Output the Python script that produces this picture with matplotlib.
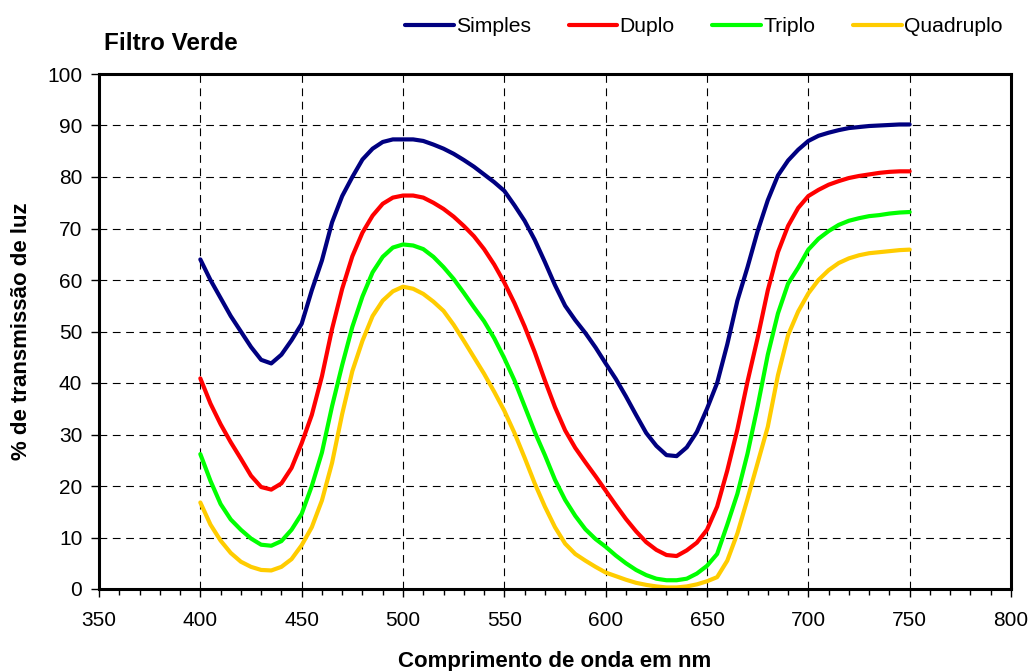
import numpy as np
import matplotlib.pyplot as plt
from matplotlib.ticker import MultipleLocator

plt.rcParams['font.family'] = ['Liberation Sans', 'DejaVu Sans']

# comprimento de onda (nm)
wl = np.arange(400, 751, 5)

simples = [64.0, 60.0, 56.5, 53.0, 50.0, 47.0, 44.5, 43.8, 45.5, 48.3,
           51.5, 58.0, 63.8, 71.2, 76.3, 80.0, 83.4, 85.5, 86.8, 87.3,
           87.3, 87.3, 87.0, 86.3, 85.5, 84.5, 83.3, 82.0, 80.5, 79.0,
           77.3, 74.5, 71.5, 67.8, 63.5, 59.0, 55.0, 52.2, 49.7, 46.9,
           43.8, 40.8, 37.4, 33.8, 30.3, 27.8, 26.0, 25.8, 27.5, 30.5,
           35.0, 40.0, 47.5, 56.0, 62.5, 69.5, 75.5, 80.3, 83.2, 85.3,
           87.0, 88.0, 88.6, 89.1, 89.5, 89.7, 89.9, 90.0, 90.1, 90.2,
           90.2]

duplo = [40.9, 36.0, 32.0, 28.5, 25.3, 22.0, 19.8, 19.3, 20.5, 23.5,
         28.3, 33.8, 41.3, 50.5, 58.3, 64.6, 69.2, 72.5, 74.8, 76.0,
         76.4, 76.4, 76.0, 75.0, 73.8, 72.3, 70.5, 68.5, 66.0, 63.0,
         59.5, 55.5, 51.0, 46.0, 40.5, 35.3, 30.8, 27.4, 24.6, 21.9,
         19.1, 16.3, 13.6, 11.2, 9.1, 7.6, 6.6, 6.4, 7.5, 9.0,
         11.5, 16.0, 23.0, 31.0, 40.3, 48.8, 58.0, 65.4, 70.5, 74.0,
         76.3, 77.5, 78.5, 79.2, 79.8, 80.2, 80.5, 80.8, 81.0, 81.1,
         81.1]

triplo = [26.2, 21.0, 16.5, 13.5, 11.5, 9.8, 8.6, 8.4, 9.3, 11.5,
          14.6, 20.0, 26.5, 35.5, 43.5, 50.9, 56.8, 61.5, 64.5, 66.3,
          66.9, 66.7, 66.0, 64.5, 62.5, 60.2, 57.5, 54.7, 52.0, 48.7,
          44.8, 40.5, 35.5, 30.5, 26.0, 21.2, 17.3, 14.2, 11.6, 9.7,
          8.2, 6.5, 5.0, 3.7, 2.7, 2.0, 1.7, 1.7, 2.0, 3.0,
          4.5, 6.8, 12.5, 18.5, 26.3, 35.5, 45.5, 53.5, 59.3, 62.4,
          65.9, 68.0, 69.5, 70.7, 71.5, 72.0, 72.4, 72.6, 72.9, 73.1,
          73.2]

quadruplo = [16.8, 12.5, 9.4, 7.0, 5.3, 4.3, 3.7, 3.6, 4.3, 5.8,
             8.5, 12.0, 17.2, 24.5, 34.0, 42.3, 48.2, 53.0, 56.0, 57.8,
             58.7, 58.3, 57.3, 55.8, 54.0, 51.3, 48.2, 45.0, 41.8, 38.3,
             34.6, 30.3, 25.5, 20.5, 16.0, 12.0, 8.8, 6.8, 5.5, 4.3,
             3.2, 2.5, 1.8, 1.2, 0.8, 0.5, 0.3, 0.3, 0.5, 0.9,
             1.5, 2.3, 5.5, 10.8, 17.5, 24.5, 31.5, 41.5, 49.3, 53.9,
             57.4, 60.0, 61.9, 63.3, 64.2, 64.8, 65.2, 65.4, 65.6, 65.8,
             65.9]

series = [("Simples", simples, "#000080"),
          ("Duplo", duplo, "#ff0000"),
          ("Triplo", triplo, "#00ff00"),
          ("Quadruplo", quadruplo, "#ffcc00")]

fig = plt.figure(figsize=(10.36, 6.71), dpi=100)
ax = fig.add_axes([99/1036, 1 - 589/671, 912/1036, 515/671])

for name, vals, col in series:
    ax.plot(wl, vals, color=col, lw=3, label=name, solid_capstyle='round')

ax.set_xlim(350, 800)
ax.set_ylim(0, 100)
ax.xaxis.set_major_locator(MultipleLocator(50))
ax.xaxis.set_minor_locator(MultipleLocator(10))
ax.yaxis.set_major_locator(MultipleLocator(10))

ax.grid(True, which='major', color='black', linestyle=(0, (7, 5)), lw=0.8)
for s in ax.spines.values():
    s.set_linewidth(2.2)
ax.tick_params(which='major', direction='out', length=6, width=1, labelsize=15)
ax.tick_params(axis='x', which='major', pad=10)
ax.tick_params(axis='y', which='major', pad=6)
ax.tick_params(which='minor', direction='out', length=4, width=1)

ax.set_xlabel("Comprimento de onda em nm", fontsize=16, fontweight='bold')
ax.xaxis.label.set_va('center')
ax.xaxis.set_label_coords(0.5, (589 - 661) / 515)
ax.set_ylabel("% de transmissão de luz", fontsize=16, fontweight='bold')
ax.yaxis.label.set_va('center')
ax.yaxis.set_label_coords((22 - 99) / 912, 0.5)

fig.text(104/1036, 1 - 43/671, "Filtro Verde", fontsize=17.5, fontweight='bold', va='center')

fig.legend(loc='center left', bbox_to_anchor=(405/1036, 1 - 27/671), ncol=4,
           frameon=False, fontsize=15.2, handlelength=2.3, handletextpad=0.1,
           columnspacing=1.8, borderaxespad=0, borderpad=0)

fig.savefig("out.png", dpi=100)
